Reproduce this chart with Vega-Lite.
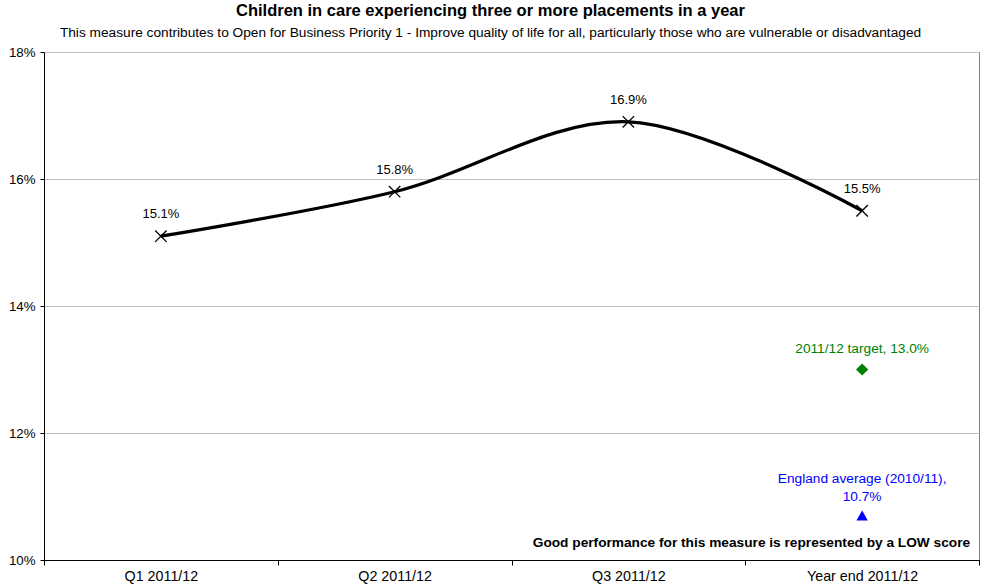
{
  "$schema": "https://vega.github.io/schema/vega-lite/v6.json",
  "autosize": "none",
  "width": 935,
  "height": 508,
  "padding": {"left": 44, "top": 52, "right": 2, "bottom": 27},
  "background": "white",
  "title": {
    "text": "Children in care experiencing three or more placements in a year",
    "subtitle": "This measure contributes to Open for Business Priority 1 - Improve quality of life for all, particularly those who are vulnerable or disadvantaged",
    "font": "Liberation Sans",
    "fontSize": 16.5,
    "fontWeight": "bold",
    "color": "black",
    "subtitleFont": "Liberation Sans",
    "subtitleFontSize": 13.7,
    "subtitleColor": "black",
    "subtitlePadding": 7,
    "offset": 5,
    "anchor": "middle",
    "dx": -21
  },
  "data": {
    "values": [
      {"period": "Q1 2011/12", "value": 15.1, "series": "Actual", "label": "15.1%"},
      {"period": "Q2 2011/12", "value": 15.8, "series": "Actual", "label": "15.8%"},
      {"period": "Q3 2011/12", "value": 16.9, "series": "Actual", "label": "16.9%"},
      {"period": "Year end 2011/12", "value": 15.5, "series": "Actual", "label": "15.5%"},
      {"period": "Year end 2011/12", "value": 13.0, "series": "Target", "label": "2011/12 target, 13.0%"},
      {"period": "Year end 2011/12", "value": 10.7, "series": "England", "label": "England average (2010/11),\n10.7%"},
      {"period": "Year end 2011/12", "value": 10.27, "series": "Note", "label": "Good performance for this measure is represented by a LOW score"}
    ]
  },
  "encoding": {
    "x": {
      "field": "period",
      "type": "nominal",
      "sort": ["Q1 2011/12", "Q2 2011/12", "Q3 2011/12", "Year end 2011/12"],
      "scale": {"type": "band", "paddingInner": 0, "paddingOuter": 0, "domain": ["Q1 2011/12", "Q2 2011/12", "Q3 2011/12", "Year end 2011/12"]},
      "axis": {
        "title": null,
        "labelAngle": 0,
        "labelFont": "Liberation Sans",
        "labelFontSize": 14.3,
        "labelColor": "black",
        "tickBand": "extent",
        "tickSize": 5,
        "tickColor": "black",
        "domainColor": "black",
        "labelPadding": 4,
        "grid": false
      }
    },
    "y": {
      "field": "value",
      "type": "quantitative",
      "scale": {"domain": [10, 18], "nice": false, "zero": false},
      "axis": {
        "title": null,
        "values": [10, 12, 14, 16, 18],
        "labelExpr": "datum.value + '%'",
        "labelFont": "Liberation Sans",
        "labelFontSize": 13.3,
        "labelColor": "black",
        "tickSize": 4,
        "tickColor": "black",
        "domainColor": "black",
        "labelPadding": 5,
        "grid": true,
        "gridColor": "#c0c0c0",
        "gridWidth": 1
      }
    }
  },
  "layer": [
    {
      "transform": [{"filter": "datum.series == 'Actual'"}],
      "mark": {"type": "line", "interpolate": "cardinal", "color": "black", "strokeWidth": 3.2}
    },
    {
      "transform": [{"filter": "datum.series == 'Actual'"}],
      "mark": {"type": "point", "shape": "M-1,-1L1,1M-1,1L1,-1", "filled": false, "stroke": "black", "strokeWidth": 1.3, "size": 130, "opacity": 1}
    },
    {
      "transform": [{"filter": "datum.series == 'Actual'"}],
      "mark": {"type": "text", "font": "Liberation Sans", "fontSize": 13, "color": "black", "baseline": "middle", "dy": -22},
      "encoding": {"text": {"field": "label"}}
    },
    {
      "transform": [{"filter": "datum.series == 'Target'"}],
      "mark": {"type": "point", "shape": "diamond", "filled": true, "color": "#008000", "size": 150, "opacity": 1}
    },
    {
      "transform": [{"filter": "datum.series == 'Target'"}],
      "mark": {"type": "text", "font": "Liberation Sans", "fontSize": 13.7, "color": "#008000", "baseline": "middle", "dy": -21},
      "encoding": {"text": {"field": "label"}}
    },
    {
      "transform": [{"filter": "datum.series == 'England'"}],
      "mark": {"type": "point", "shape": "triangle-up", "filled": true, "color": "#0000ff", "size": 130, "opacity": 1}
    },
    {
      "transform": [{"filter": "datum.series == 'England'"}],
      "mark": {"type": "text", "font": "Liberation Sans", "fontSize": 13.7, "color": "#0000ff", "baseline": "middle", "lineBreak": "\n", "lineHeight": 18, "dy": -37},
      "encoding": {"text": {"field": "label"}}
    },
    {
      "transform": [{"filter": "datum.series == 'Note'"}],
      "mark": {"type": "text", "font": "Liberation Sans", "fontSize": 13.7, "fontWeight": "bold", "color": "black", "baseline": "middle", "align": "right", "dx": 108},
      "encoding": {"text": {"field": "label"}}
    }
  ],
  "config": {
    "view": {"stroke": "#808080", "strokeWidth": 1}
  }
}
